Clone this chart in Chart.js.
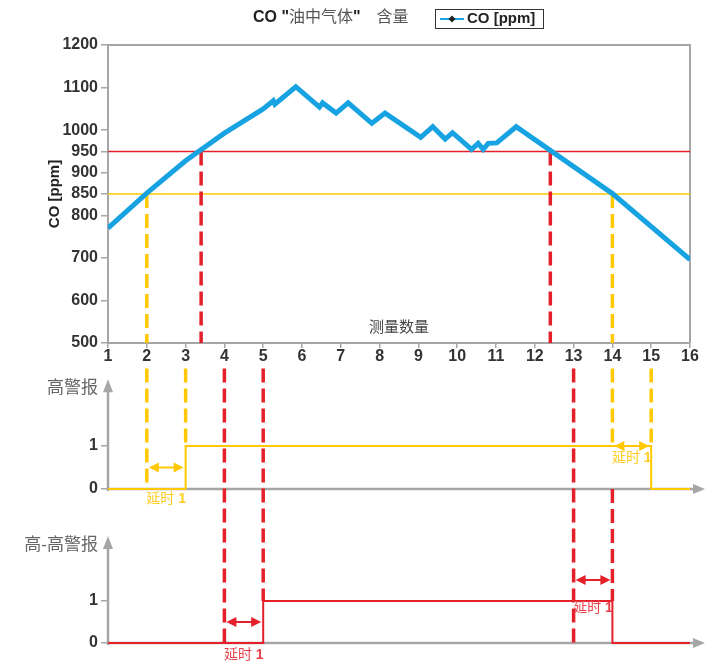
<!DOCTYPE html>
<html>
<head>
<meta charset="utf-8">
<script src="https://cdn.jsdelivr.net/npm/chart.js@4"></script>
<style>
  body { margin: 0; background: #fff; }
  #wrap { width: 705px; height: 663px; }
</style>
</head>
<body>
<div id="wrap"><canvas id="myChart" width="705" height="663"></canvas></div>
<script>
var FONT = '"Liberation Sans", Arial, "Noto Sans CJK SC", sans-serif';
var BLUE = '#17a2e2', RED = '#e4202a', YELLOW = '#ffc800', GRAY = '#a6a6a6', TEXT = '#333';

// data
var xTicks = [1, 2, 3, 4, 5, 6, 7, 8, 9, 10, 11, 12, 13, 14, 15, 16];
var coTicks = [500, 600, 700, 800, 850, 900, 950, 1000, 1100, 1200];
var coX = [1, 2, 3, 4, 5, 5.26, 5.3, 5.84, 6.45, 6.53, 6.88, 7.19, 7.8, 8.14, 9.06, 9.37, 9.69, 9.88, 10.37, 10.54, 10.67, 10.8, 11.02, 11.52, 14, 16];
var coY = [770, 852, 928, 993, 1050, 1069, 1061, 1102, 1054, 1064, 1040, 1064, 1016, 1040, 983, 1008, 979, 994, 955, 969, 955, 969, 970, 1008, 851, 696];
var highLimit = 850;      // 高警报
var highHighLimit = 950;  // 高-高警报
var delayTime = 1;
var highCrossX = [2, 14];
var hhCrossX = [3.4, 12.4];
var hhSampleX = [4, 13];
var highAlarmX = [1, 3, 3, 15, 15, 16];
var highAlarmY = [0, 0, 1, 1, 0, 0];
var hhAlarmX = [1, 5, 5, 14, 14, 16];
var hhAlarmY = [0, 0, 1, 1, 0, 0];

var PANEL_TOP = 2.8;   // where dashed lines start in the alarm panels
var AXIS_TOP = 2.55;   // arrow tip of the panel axes

function pts(xs, ys) {
  return xs.map(function (x, i) { return { x: x, y: ys[i] }; });
}

function fixTicks(list) {
  return function (scale) {
    scale.ticks = list.map(function (v) { return { value: v }; });
  };
}

// fixed axis width, no extra label padding at the chart edges
function fitWidth(scale) {
  scale.width = 108;
  scale.paddingTop = 0;
  scale.paddingBottom = 0;
}

function vdash(ctx, xs, x, s1, v1, s2, v2, color) {
  var px = xs.getPixelForValue(x);
  ctx.save();
  ctx.strokeStyle = color;
  ctx.lineWidth = 3.5;
  ctx.setLineDash([14, 6]);
  ctx.beginPath();
  ctx.moveTo(px, s1.getPixelForValue(v1));
  ctx.lineTo(px, s2.getPixelForValue(v2));
  ctx.stroke();
  ctx.restore();
}

function dblArrow(ctx, xs, x1, x2, scale, v, color) {
  var a = xs.getPixelForValue(x1) + 2, b = xs.getPixelForValue(x2) - 2;
  var y = scale.getPixelForValue(v);
  ctx.save();
  ctx.strokeStyle = color; ctx.fillStyle = color; ctx.lineWidth = 2;
  ctx.beginPath(); ctx.moveTo(a + 6, y); ctx.lineTo(b - 6, y); ctx.stroke();
  ctx.beginPath(); ctx.moveTo(a, y); ctx.lineTo(a + 10, y - 5); ctx.lineTo(a + 10, y + 5); ctx.closePath(); ctx.fill();
  ctx.beginPath(); ctx.moveTo(b, y); ctx.lineTo(b - 10, y - 5); ctx.lineTo(b - 10, y + 5); ctx.closePath(); ctx.fill();
  ctx.restore();
}

function delayLabel(ctx, xs, x, scale, v, color) {
  var cx = xs.getPixelForValue(x), y = scale.getPixelForValue(v);
  ctx.save();
  ctx.fillStyle = color; ctx.textBaseline = 'middle'; ctx.textAlign = 'left';
  ctx.font = '14px ' + FONT;
  var w1 = ctx.measureText('延时 ').width;
  ctx.font = 'bold 14px ' + FONT;
  var w2 = ctx.measureText(String(delayTime)).width;
  var left = cx - (w1 + w2) / 2;
  ctx.font = '14px ' + FONT;
  ctx.fillText('延时 ', left, y);
  ctx.font = 'bold 14px ' + FONT;
  ctx.fillText(String(delayTime), left + w1, y);
  ctx.restore();
}

function panelAxes(chart, scale, label) {
  var ctx = chart.ctx, xs = chart.scales.x;
  var x0 = xs.left, y0 = scale.getPixelForValue(0), tip = scale.getPixelForValue(AXIS_TOP);
  var right = chart.width;
  ctx.save();
  ctx.strokeStyle = GRAY; ctx.fillStyle = GRAY; ctx.lineWidth = 2.5;
  ctx.beginPath(); ctx.moveTo(x0, y0 + 2); ctx.lineTo(x0, tip + 10); ctx.stroke();
  ctx.beginPath(); ctx.moveTo(x0, tip); ctx.lineTo(x0 - 5, tip + 13); ctx.lineTo(x0 + 5, tip + 13); ctx.closePath(); ctx.fill();
  ctx.beginPath(); ctx.moveTo(x0, y0); ctx.lineTo(right - 8, y0); ctx.stroke();
  ctx.beginPath(); ctx.moveTo(right, y0); ctx.lineTo(right - 12, y0 - 5); ctx.lineTo(right - 12, y0 + 5); ctx.closePath(); ctx.fill();
  ctx.fillStyle = '#666'; ctx.font = '17px ' + FONT;
  ctx.textAlign = 'right'; ctx.textBaseline = 'middle';
  ctx.fillText(label, 98, tip + 9);
  ctx.restore();
}

var overlay = {
  id: 'overlay',
  beforeDatasetsDraw: function (chart) {
    var ctx = chart.ctx, xs = chart.scales.x, yCo = chart.scales.y;
    // frame of the CO plot
    ctx.save();
    ctx.strokeStyle = GRAY; ctx.lineWidth = 2;
    ctx.beginPath();
    ctx.moveTo(xs.left, yCo.top); ctx.lineTo(xs.right, yCo.top); ctx.lineTo(xs.right, yCo.bottom);
    ctx.stroke();
    ctx.fillStyle = '#444'; ctx.font = '15px ' + FONT;
    ctx.textAlign = 'center'; ctx.textBaseline = 'middle';
    ctx.fillText('测量数量', (xs.left + xs.right) / 2, yCo.getPixelForValue(536));
    ctx.restore();
    panelAxes(chart, chart.scales.yHigh, '高警报');
    panelAxes(chart, chart.scales.yHH, '高-高警报');
  },
  beforeDatasetDraw: function (chart, args) {
    if (args.index !== 0) return;
    var ctx = chart.ctx, xs = chart.scales.x, yCo = chart.scales.y;
    var yH = chart.scales.yHigh, yHH = chart.scales.yHH;
    highCrossX.forEach(function (x, i) {
      vdash(ctx, xs, x, yCo, highLimit, yCo, coTicks[0], YELLOW);
      vdash(ctx, xs, x, yH, PANEL_TOP, yH, i === 0 ? 0 : 1, YELLOW);
      vdash(ctx, xs, x + delayTime, yH, PANEL_TOP, yH, 1, YELLOW);
    });
    hhCrossX.forEach(function (x) {
      vdash(ctx, xs, x, yCo, highHighLimit, yCo, coTicks[0], RED);
    });
    hhSampleX.forEach(function (x) {
      vdash(ctx, xs, x, yH, PANEL_TOP, yHH, 0, RED);
    });
    vdash(ctx, xs, hhSampleX[0] + delayTime, yH, PANEL_TOP, yHH, 1, RED);
    vdash(ctx, xs, hhSampleX[1] + delayTime, yH, 0, yHH, 1, RED);
  },
  afterDatasetsDraw: function (chart) {
    var ctx = chart.ctx, xs = chart.scales.x;
    var yH = chart.scales.yHigh, yHH = chart.scales.yHH;
    dblArrow(ctx, xs, highCrossX[0], highCrossX[0] + delayTime, yH, 0.5, YELLOW);
    dblArrow(ctx, xs, highCrossX[1], highCrossX[1] + delayTime, yH, 1, YELLOW);
    dblArrow(ctx, xs, hhSampleX[0], hhSampleX[0] + delayTime, yHH, 0.5, RED);
    dblArrow(ctx, xs, hhSampleX[1], hhSampleX[1] + delayTime, yHH, 1.5, RED);
    delayLabel(ctx, xs, highCrossX[0] + delayTime / 2, yH, -0.24, '#ffcc22');
    delayLabel(ctx, xs, highCrossX[1] + delayTime / 2, yH, 0.72, '#ffcc22');
    delayLabel(ctx, xs, hhSampleX[0] + delayTime / 2, yHH, -0.29, '#e8404a');
    delayLabel(ctx, xs, hhSampleX[1] + delayTime / 2, yHH, 0.83, '#e8404a');
  },
  afterDraw: function (chart) {
    var ctx = chart.ctx;
    ctx.save();
    ctx.textBaseline = 'middle'; ctx.textAlign = 'left';
    // title, mixed styles
    var parts = [
      ['bold 16px ' + FONT, '#222', 'CO "', 0],
      ['16px ' + FONT, '#555', '油中气体', 0],
      ['bold 16px ' + FONT, '#222', '"', 0],
      ['16px ' + FONT, '#555', '含量', 16]
    ];
    var x = 253;
    parts.forEach(function (p) {
      x += p[3];
      ctx.font = p[0]; ctx.fillStyle = p[1];
      ctx.fillText(p[2], x, 18);
      x += ctx.measureText(p[2]).width;
    });
    // legend box
    ctx.strokeStyle = '#333'; ctx.lineWidth = 1;
    ctx.strokeRect(435.5, 9.5, 108, 19);
    ctx.strokeStyle = BLUE; ctx.lineWidth = 2;
    ctx.beginPath(); ctx.moveTo(440, 19); ctx.lineTo(464, 19); ctx.stroke();
    ctx.fillStyle = '#222';
    ctx.beginPath(); ctx.moveTo(452, 15.5); ctx.lineTo(455.5, 19); ctx.lineTo(452, 22.5); ctx.lineTo(448.5, 19); ctx.closePath(); ctx.fill();
    ctx.font = 'bold 15px ' + FONT; ctx.fillStyle = '#222';
    ctx.fillText('CO [ppm]', 467, 19);
    // y axis title
    var yCo = chart.scales.y;
    ctx.translate(55, (yCo.top + yCo.bottom) / 2);
    ctx.rotate(-Math.PI / 2);
    ctx.textAlign = 'center';
    ctx.font = 'bold 15px ' + FONT; ctx.fillStyle = '#222';
    ctx.fillText('CO [ppm]', 0, 0);
    ctx.restore();
  }
};

var tickFont = { family: FONT, size: 16, weight: 'bold' };
var plainTick = function (v) { return String(v); };

var chart = new Chart(document.getElementById('myChart'), {
  type: 'line',
  data: {
    datasets: [
      { label: 'CO [ppm]', data: pts(coX, coY), yAxisID: 'y', borderColor: BLUE, borderWidth: 5, borderJoinStyle: 'miter' },
      { label: '高-高', data: pts([1, 16], [highHighLimit, highHighLimit]), yAxisID: 'y', borderColor: RED, borderWidth: 1.5 },
      { label: '高', data: pts([1, 16], [highLimit, highLimit]), yAxisID: 'y', borderColor: YELLOW, borderWidth: 1.5 },
      { label: '高警报', data: pts(highAlarmX, highAlarmY), yAxisID: 'yHigh', borderColor: YELLOW, borderWidth: 2 },
      { label: '高-高警报', data: pts(hhAlarmX, hhAlarmY), yAxisID: 'yHH', borderColor: RED, borderWidth: 2 }
    ]
  },
  options: {
    responsive: false,
    animation: false,
    events: [],
    devicePixelRatio: 1,
    elements: { point: { radius: 0 }, line: { tension: 0 } },
    layout: { padding: { top: 45, right: 15, bottom: 0, left: 0 } },
    plugins: { legend: { display: false }, title: { display: false }, tooltip: { enabled: false } },
    scales: {
      x: {
        type: 'linear', min: 1, max: 16,
        position: { y: 500 },
        afterBuildTicks: fixTicks(xTicks),
        ticks: { font: tickFont, color: TEXT, padding: 0, maxRotation: 0, autoSkip: false, callback: plainTick },
        grid: { drawOnChartArea: false, tickLength: 4, color: GRAY, lineWidth: 1.5 },
        border: { color: GRAY, width: 2 }
      },
      yHH: {
        type: 'linear', position: 'left', stack: 'panels', stackWeight: 153, weight: 1,
        min: -0.4762, max: 3.1667,
        afterBuildTicks: fixTicks([0, 1]), afterFit: fitWidth,
        ticks: { font: tickFont, color: TEXT, padding: 3, autoSkip: false, callback: plainTick },
        grid: { drawOnChartArea: false, tickLength: 7, color: GRAY, lineWidth: 1.5 },
        border: { display: false }
      },
      yHigh: {
        type: 'linear', position: 'left', stack: 'panels', stackWeight: 167, weight: 2,
        min: -0.4884, max: 3.3953,
        afterBuildTicks: fixTicks([0, 1]), afterFit: fitWidth,
        ticks: { font: tickFont, color: TEXT, padding: 3, autoSkip: false, callback: plainTick },
        grid: { drawOnChartArea: false, tickLength: 7, color: GRAY, lineWidth: 1.5 },
        border: { display: false }
      },
      y: {
        type: 'linear', position: 'left', stack: 'panels', stackWeight: 298, weight: 3,
        min: 500, max: 1200,
        afterBuildTicks: fixTicks(coTicks), afterFit: fitWidth,
        ticks: { font: tickFont, color: TEXT, padding: 3, autoSkip: false, callback: plainTick },
        grid: { drawOnChartArea: false, tickLength: 7, color: GRAY, lineWidth: 1.5 },
        border: { color: GRAY, width: 2 }
      }
    }
  },
  plugins: [overlay]
});
</script>
</body>
</html>
